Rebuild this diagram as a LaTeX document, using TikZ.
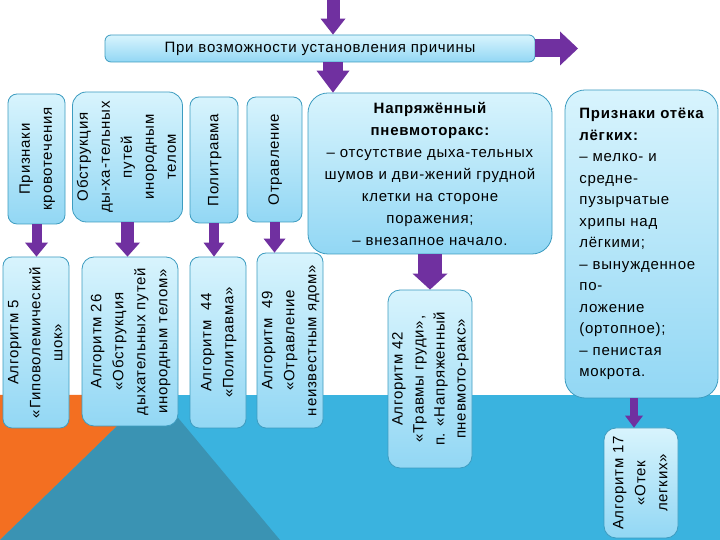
\documentclass[tikz,border=0pt]{standalone}
\usepackage{fontspec}
\setmainfont{Liberation Sans}[LetterSpace=5]
\usepackage{graphicx}
\usetikzlibrary{arrows.meta}
\definecolor{arrowc}{HTML}{7030A0}
\definecolor{boxline}{HTML}{3D9CC0}
\definecolor{boxtop}{HTML}{D8F4FD}
\definecolor{boxbot}{HTML}{92D7F4}
\definecolor{bandblue}{HTML}{3AB3DF}
\definecolor{bandteal}{HTML}{3A93B3}
\definecolor{bandorange}{HTML}{F36F21}
\newcommand\vtext[1]{\rotatebox{90}{\begin{tabular}{@{}c@{}}#1\end{tabular}}}
\tikzset{
  box/.style={draw=boxline, line width=0.8pt, top color=boxtop, bottom color=boxbot,
    rounded corners=9pt, inner sep=0pt, align=center,
    font=\fontsize{15}{22}\selectfont},
  blockarrow/.style n args={3}{draw=arrowc, line width=#1,
    -{Triangle[width=#2, length=#3, line width=0pt, fill=arrowc]}},
}
\begin{document}
\begin{tikzpicture}[x=1pt,y=1pt]
\useasboundingbox (0,0) rectangle (720,540);
% background
\fill[white] (0,0) rectangle (720,540);
\fill[bandblue] (0,0) rectangle (720,145);
\fill[bandorange] (0,145) -- (149,145) -- (0,0) -- cycle;
\fill[bandteal] (0,0) -- (149,145) -- (159,145) -- (280,0) -- cycle;
% top bar
\node[box, rounded corners=6pt, minimum width=430pt, minimum height=27pt] (bar) at (320,491.5)
  {При возможности установления причины};
% first row
\node[box, minimum width=57pt, minimum height=130pt] (A) at (36.5,381)
  {\vtext{Признаки\\кровотечения}};
\node[box, rounded corners=14pt, minimum width=101pt, minimum height=130pt] (B) at (127.5,383)
  {\vtext{Обструкция\\ды-ха-тельных\\путей\\инородным\\телом}};
\node[box, minimum width=48pt, minimum height=126pt] (C) at (214,380)
  {\vtext{Политравма}};
\node[box, minimum width=55pt, minimum height=125pt] (D) at (274.5,380.5)
  {\vtext{Отравление}};
\node[box, rounded corners=20pt, minimum width=244pt, minimum height=161pt] (E) at (430,366.5)
  {{\bfseries Напряжённый}\\{\bfseries пневмоторакс:}\\– отсутствие дыха-тельных\\шумов и дви-жений грудной\\клетки на стороне\\поражения;\\– внезапное начало.};
\node[box, rounded corners=20pt, minimum width=153pt, minimum height=308pt, align=left,
  font=\fontsize{15}{21.5}\selectfont] (F) at (641.5,296)
  {{\bfseries Признаки отёка}\\{\bfseries лёгких:}\\– мелко- и\\средне-\\пузырчатые\\хрипы над\\лёгкими;\\– вынужденное\\по-\\ложение\\(ортопное);\\– пенистая\\мокрота.};
% second row
\node[box, minimum width=58pt, minimum height=171pt] (R5) at (36,197.5)
  {\vtext{Алгоритм 5\\«Гиповолемический\\шок»}};
\node[box, rounded corners=12pt, minimum width=96pt, minimum height=169pt] (R26) at (130,198.5)
  {\vtext{Алгоритм 26\\«Обструкция\\дыхательных путей\\инородным телом»}};
\node[box, minimum width=56pt, minimum height=171pt] (R44) at (218,197.5)
  {\vtext{Алгоритм~ 44\\«Политравма»}};
\node[box, minimum width=64pt, minimum height=175pt] (R49) at (290,199.5)
  {\vtext{Алгоритм~ 49\\«Отравление\\неизвестным ядом»}};
\node[box, rounded corners=12pt, minimum width=84pt, minimum height=178pt,
  font=\fontsize{15}{21}\selectfont] (R42) at (430,161)
  {\vtext{Алгоритм 42\\«Травмы груди»,\\п. «Напряженный\\пневмото-ракс»}};
\node[box, rounded corners=12pt, minimum width=74pt, minimum height=110pt] (R17) at (641,57)
  {\vtext{Алгоритм 17\\«Отек\\легких»}};
% arrows
\coordinate (t0) at (333,540);
\coordinate (r1) at (578,491.5);
\draw[blockarrow={13pt}{25pt}{16pt}] (t0) -- (t0 |- bar.north);
\draw[blockarrow={18pt}{34pt}{18pt}] (bar.east) -- (r1);
\draw[blockarrow={20pt}{33pt}{22pt}] (t0 |- bar.south) -- (t0 |- E.north);
\draw[blockarrow={10pt}{23pt}{14pt}] (A.south) -- (A.south |- R5.north);
\draw[blockarrow={13pt}{25pt}{14pt}] (B.south) -- (B.south |- R26.north);
\draw[blockarrow={10pt}{21pt}{14pt}] (C.south) -- (C.south |- R44.north);
\draw[blockarrow={10pt}{22pt}{14pt}] (D.south) -- (D.south |- R49.north);
\draw[blockarrow={24pt}{35pt}{16pt}] (E.south) -- (E.south |- R42.north);
\draw[blockarrow={8pt}{18pt}{12pt}] ([xshift=-7pt]R17.north |- F.south) -- ([xshift=-7pt]R17.north);
\end{tikzpicture}
\end{document}
